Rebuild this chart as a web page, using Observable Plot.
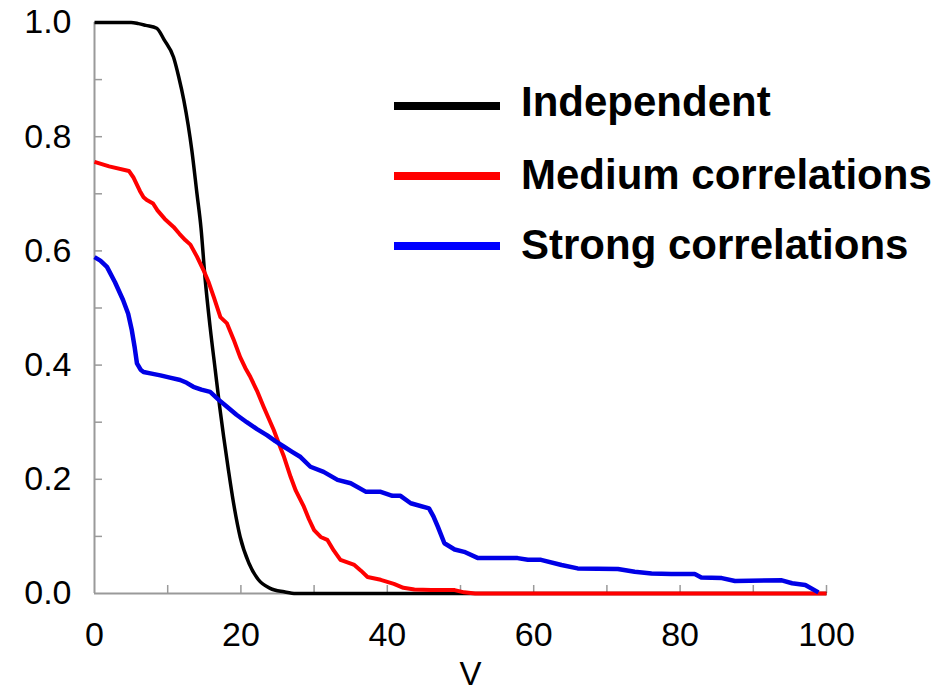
<!DOCTYPE html>
<html>
<head>
<meta charset="utf-8">
<script src="https://cdn.jsdelivr.net/npm/d3@7"></script>
<script src="https://cdn.jsdelivr.net/npm/@observablehq/plot@0.6"></script>
<style>
  html, body { margin: 0; padding: 0; background: #fff; }
  #chart { position: relative; width: 939px; height: 693px; overflow: hidden;
           font-family: "Liberation Sans", Arial, sans-serif; }
  #legend { position: absolute; left: 0; top: 0; }
  .swatch { position: absolute; left: 394px; width: 106px; height: 8px; }
  .label { position: absolute; left: 521px; font-weight: bold; font-size: 42px; line-height: 1;
           color: #000; white-space: nowrap; }
</style>
</head>
<body>
<div id="chart"><div id="legend"></div></div>
<script>
// Series names and colours
const seriesNames = ["Independent", "Medium correlations", "Strong correlations"];
const seriesColors = ["#000000", "#ff0000", "#0000e6"];
const legendColors = ["#000000", "#ff0000", "#0000ff"];

// Independent
const indepX = [0, 5, 6, 7, 8.5, 9.5, 10.8, 11.5, 12.2, 12.8, 13.3, 14, 14.55, 15.1, 15.8, 16.5, 17.1, 17.65, 18.3, 19.0, 19.9, 21.1, 22.4, 24.0, 25.9, 27.5, 100];
const indepY = [1, 1, 0.998, 0.995, 0.99, 0.97, 0.939, 0.905, 0.864, 0.82, 0.776, 0.7, 0.64, 0.553, 0.466, 0.391, 0.327, 0.274, 0.216, 0.158, 0.099, 0.053, 0.024, 0.009, 0.003, 0, 0];

// Medium correlations
const mediumX = [0, 2, 4.7, 5.3, 6.2, 6.7, 7.15, 8, 8.6, 9.6, 10.8, 11.6, 12.4, 13.1, 14, 14.9, 15.6, 16.3, 17.2, 18.1, 19, 19.9, 20.6, 21.3, 22.2, 23.1, 24.5, 25.2, 25.9, 26.8, 27.5, 28.6, 29.3, 30, 30.9, 31.8, 32.7, 33.6, 35.5, 36.4, 37.3, 39.1, 40.9, 42.2, 43.7, 46, 49.2, 50.5, 52, 100];
const mediumY = [0.756, 0.748, 0.74, 0.729, 0.705, 0.694, 0.689, 0.683, 0.671, 0.656, 0.642, 0.63, 0.619, 0.611, 0.59, 0.566, 0.545, 0.519, 0.484, 0.473, 0.445, 0.414, 0.395, 0.379, 0.355, 0.327, 0.286, 0.262, 0.239, 0.204, 0.18, 0.152, 0.13, 0.111, 0.099, 0.094, 0.075, 0.059, 0.05, 0.04, 0.029, 0.024, 0.017, 0.01, 0.007, 0.006, 0.006, 0.002, 0, 0];

// Strong correlations
const strongX = [0, 0.8, 1.7, 2.8, 3.9, 4.6, 5.1, 5.5, 5.8, 6.3, 6.7, 7.8, 9, 10.3, 11.7, 12.6, 13.5, 14.6, 15.8, 16.9, 18.1, 19.4, 20.8, 22.2, 23.6, 24.7, 25.9, 27, 28.15, 29.5, 31.3, 33.2, 35, 37.1, 39.1, 40.7, 41.8, 43.2, 45.7, 46.3, 46.9, 47.8, 49.2, 50.5, 52.4, 57.8, 59.2, 61, 63.8, 66, 71.5, 73.8, 76.1, 78.8, 82, 82.9, 85.7, 87.5, 93.9, 95.3, 97.1, 98.9];
const strongY = [0.589, 0.583, 0.572, 0.545, 0.514, 0.49, 0.461, 0.43, 0.403, 0.392, 0.388, 0.385, 0.382, 0.378, 0.374, 0.369, 0.362, 0.357, 0.353, 0.34, 0.327, 0.313, 0.3, 0.288, 0.277, 0.267, 0.257, 0.248, 0.239, 0.222, 0.213, 0.199, 0.193, 0.178, 0.178, 0.171, 0.171, 0.158, 0.149, 0.135, 0.117, 0.088, 0.077, 0.073, 0.062, 0.062, 0.059, 0.059, 0.05, 0.044, 0.043, 0.038, 0.035, 0.034, 0.034, 0.028, 0.027, 0.022, 0.023, 0.018, 0.015, 0.002];

// Axis ticks
const xLabelTicks = [0, 20, 40, 60, 80, 100];
const xMinorTicks = [10, 20, 30, 40, 50, 60, 70, 80, 90, 100];
const yLabelTicks = [0, 0.2, 0.4, 0.6, 0.8, 1.0];
const yMinorTicks = [0.1, 0.2, 0.3, 0.4, 0.5, 0.6, 0.7, 0.8, 0.9];
const xAxisTitle = "V";

const toRows = (xs, ys) => xs.map((x, i) => ({x, y: ys[i]}));
const series = [
  toRows(indepX, indepY),
  toRows(mediumX, mediumY),
  toRows(strongX, strongY)
];
const widths = [3.5, 4, 4.5];
const curves = ["monotone-x", "linear", "linear"];

const axisGray = "#9a9a9a";

const chart = Plot.plot({
  width: 939,
  height: 693,
  marginLeft: 94,
  marginRight: 113,
  marginTop: 22,
  marginBottom: 100,
  style: {fontFamily: "'Liberation Sans', Arial, sans-serif", background: "white", color: "black"},
  x: {domain: [0, 100]},
  y: {domain: [0, 1]},
  marks: [
    // inward-pointing tick marks
    Plot.axisX(xMinorTicks, {tickSize: 8, dy: -8, tickFormat: () => "", label: null, stroke: axisGray, strokeWidth: 1.5}),
    Plot.axisY(yMinorTicks, {tickSize: 8, dx: 8, tickFormat: () => "", label: null, stroke: axisGray, strokeWidth: 1.5}),
    // tick labels
    Plot.axisX(xLabelTicks, {tickSize: 0, tickPadding: 28, fontSize: 34, label: null, tickFormat: d => String(d)}),
    Plot.axisY(yLabelTicks, {tickSize: 0, tickPadding: 23, fontSize: 34, label: null, tickFormat: d => d.toFixed(1)}),
    // axis lines
    Plot.ruleY([0], {stroke: axisGray, strokeWidth: 2}),
    Plot.ruleX([0], {stroke: axisGray, strokeWidth: 2}),
    // curves
    ...series.map((rows, i) => Plot.line(rows, {
      x: "x", y: "y", stroke: seriesColors[i], strokeWidth: widths[i], curve: curves[i],
      strokeLinejoin: "round", strokeLinecap: "butt"
    })),
    // x-axis title
    Plot.text([xAxisTitle], {frameAnchor: "bottom", lineAnchor: "top", dy: 68, dx: 10, fontSize: 33, text: d => d})
  ]
});

const root = document.getElementById("chart");
root.insertBefore(chart, root.firstChild);

// legend drawn over the plot area
const legend = document.getElementById("legend");
const swatchTops = [102, 172, 242];
const labelTops = [81, 154, 224];
seriesNames.forEach((name, i) => {
  const sw = document.createElement("div");
  sw.className = "swatch";
  sw.style.top = swatchTops[i] + "px";
  sw.style.background = legendColors[i];
  const lb = document.createElement("div");
  lb.className = "label";
  lb.style.top = labelTops[i] + "px";
  lb.textContent = name;
  legend.appendChild(sw);
  legend.appendChild(lb);
});
</script>
</body>
</html>
